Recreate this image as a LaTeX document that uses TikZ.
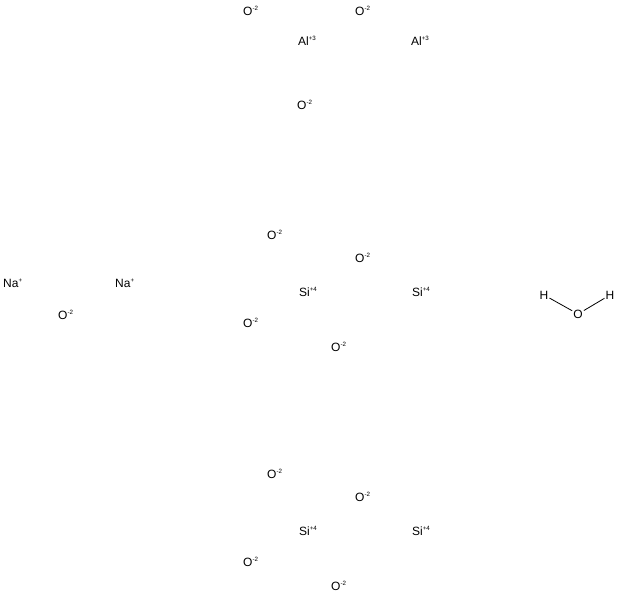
\documentclass[tikz,border=0pt]{standalone}
\usepackage{fontspec}
\setmainfont{Liberation Sans}
\usepackage{tikz}
\usetikzlibrary{positioning}
\newcommand{\ionlbl}[2]{#1\raisebox{4.8pt}{\fontsize{6.2}{7}\selectfont #2}}
\tikzset{
  ion/.style={anchor=base west, inner sep=0pt, font=\fontsize{12}{14}\selectfont},
  atom/.style={inner sep=1pt, font=\fontsize{12}{14}\selectfont},
  bond/.style={line width=0.8pt}
}
\begin{document}
\begin{tikzpicture}[x=1pt, y={(0pt,-1pt)}]
        \useasboundingbox (0,0) rectangle (621,595);
        % aluminate part
        \node[ion] (oa1) at (243,15) {\ionlbl{O}{-2}};
        \node[ion] (oa2) at (355,15) {\ionlbl{O}{-2}};
        \node[ion] (al1) at (298,45) {\ionlbl{Al}{+3}};
        \node[ion] (al2) at (411,45) {\ionlbl{Al}{+3}};
        \node[ion] (oa3) at (297,109) {\ionlbl{O}{-2}};
        
        % sodium oxide
        \node[ion] (na1) at (3,287) {\ionlbl{Na}{+}};
        \node[ion] (na2) at (115,287) {\ionlbl{Na}{+}};
        \node[ion] (on1) at (58,319) {\ionlbl{O}{-2}};
        
        % first silicate part
        \node[ion] (os1) at (267,239) {\ionlbl{O}{-2}};
        \node[ion] (os2) at (355,262) {\ionlbl{O}{-2}};
        \node[ion] (si1) at (299,296) {\ionlbl{Si}{+4}};
        \node[ion] (si2) at (412,296) {\ionlbl{Si}{+4}};
        \node[ion] (os3) at (243,327) {\ionlbl{O}{-2}};
        \node[ion] (os4) at (331,351) {\ionlbl{O}{-2}};
        
        % second silicate part
        \node[ion] (os5) at (267,478) {\ionlbl{O}{-2}};
        \node[ion] (os6) at (355,501) {\ionlbl{O}{-2}};
        \node[ion] (si3) at (299,535) {\ionlbl{Si}{+4}};
        \node[ion] (si4) at (412,535) {\ionlbl{Si}{+4}};
        \node[ion] (os7) at (243,566) {\ionlbl{O}{-2}};
        \node[ion] (os8) at (331,590) {\ionlbl{O}{-2}};
        
        % water
        \node[atom] (hw1) at (544,295) {H};
        \node[atom] (ow) at (578,314) {O};
        \node[atom] (hw2) at (610,295) {H};
        \draw[bond] (hw1) -- (ow);
        \draw[bond] (ow) -- (hw2);
    \end{tikzpicture}
\end{document}
